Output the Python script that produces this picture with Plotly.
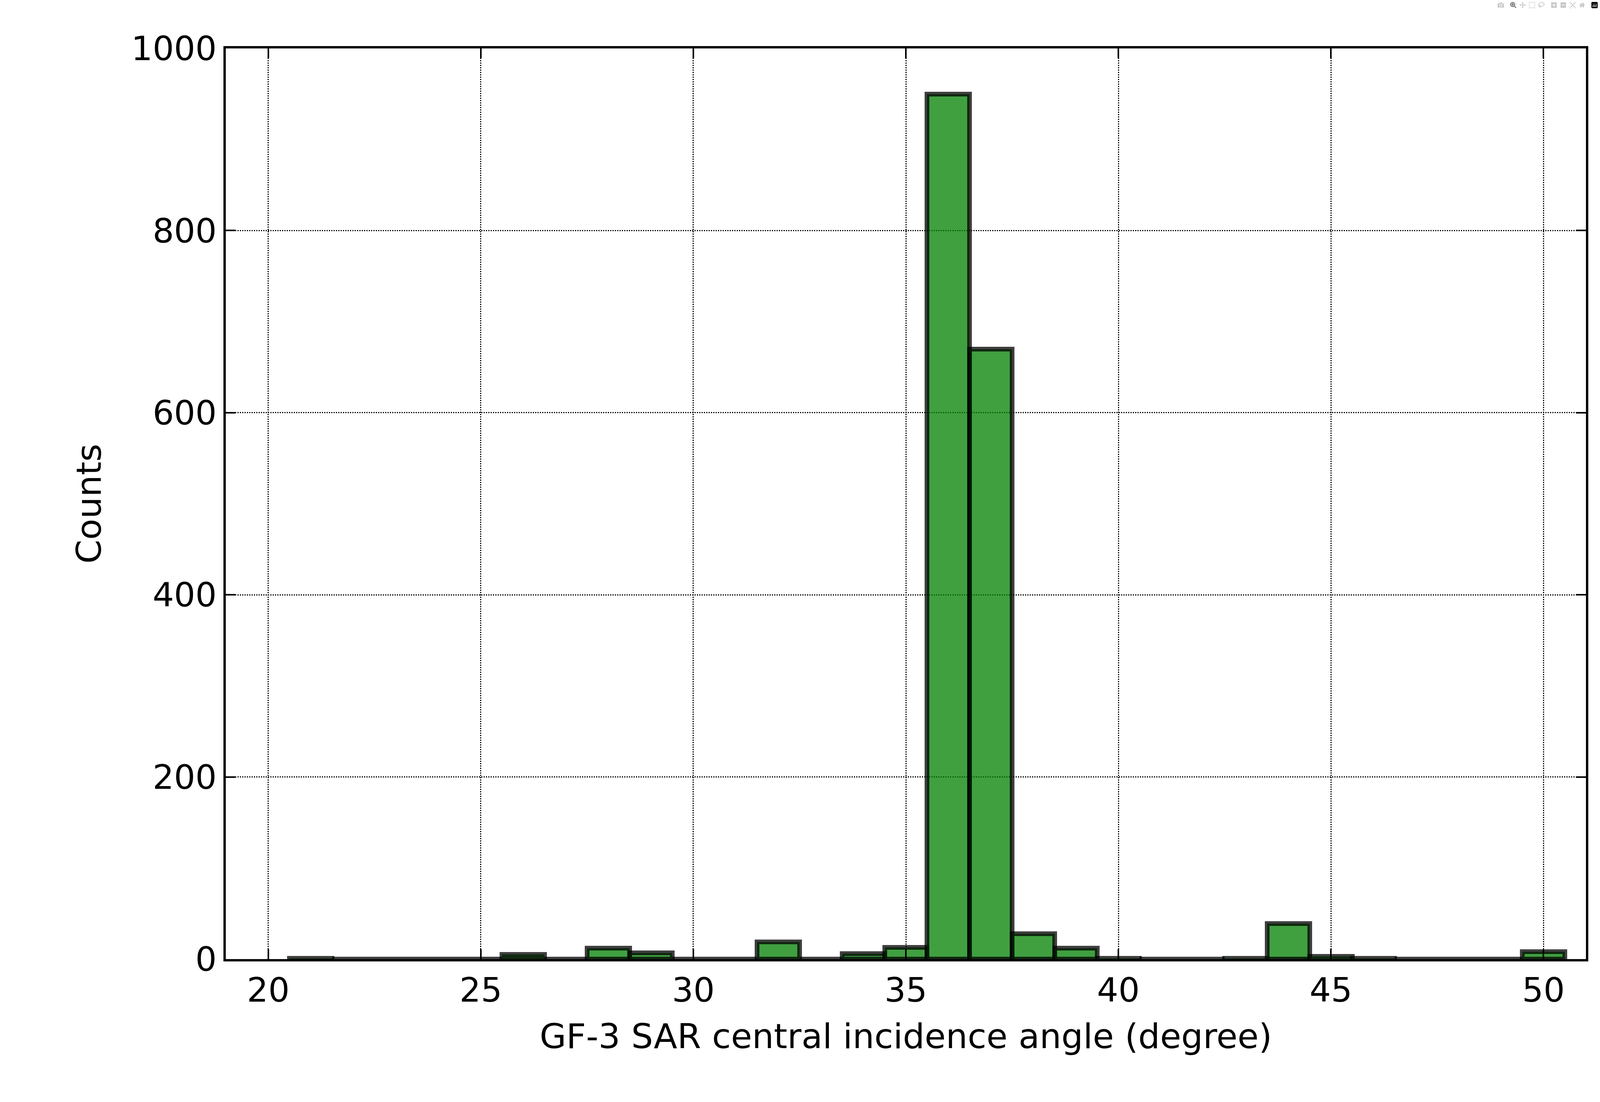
import plotly.graph_objects as go

bin_centers = list(range(21, 51))
counts = [1, 0, 0, 0, 0, 5, 0, 12, 7, 0, 0, 19, 0, 6, 13, 950, 670, 28, 12, 1,
          0, 0, 1, 39, 3, 1, 0, 0, 0, 8]
x_ticks = [20, 25, 30, 35, 40, 45, 50]
y_ticks = [0, 200, 400, 600, 800, 1000]

fig = go.Figure(go.Bar(
    x=bin_centers, y=counts, width=1.0,
    marker=dict(color="rgba(0,128,0,0.75)", line=dict(color="rgba(0,0,0,0.75)", width=12)),
))
axis_common = dict(showline=True, linecolor="black", linewidth=6, mirror="ticks",
                   ticks="inside", ticklen=25, tickwidth=4, tickcolor="black",
                   showgrid=True, gridcolor="black", gridwidth=3, griddash="dot",
                   zeroline=False, tickfont=dict(size=86, color="black"),
                   title_font=dict(size=88, color="black"))
fig.update_xaxes(range=[19, 51], tickvals=x_ticks,
                 title_text="GF-3 SAR central incidence angle (degree)", title_standoff=40, **axis_common)
fig.update_yaxes(range=[0, 1000], tickvals=y_ticks, title_text="Counts", title_standoff=50, **axis_common)
fig.update_layout(autosize=True, plot_bgcolor="white", paper_bgcolor="white",
                  font=dict(family="DejaVu Sans", color="black"),
                  margin=dict(l=578, r=36, t=124, b=366), showlegend=False, bargap=0)
fig.write_html("out.html", default_width="100vw", default_height="100vh",
               post_script="document.body.style.margin='0';document.body.style.overflow='hidden';window.dispatchEvent(new Event('resize'));")
